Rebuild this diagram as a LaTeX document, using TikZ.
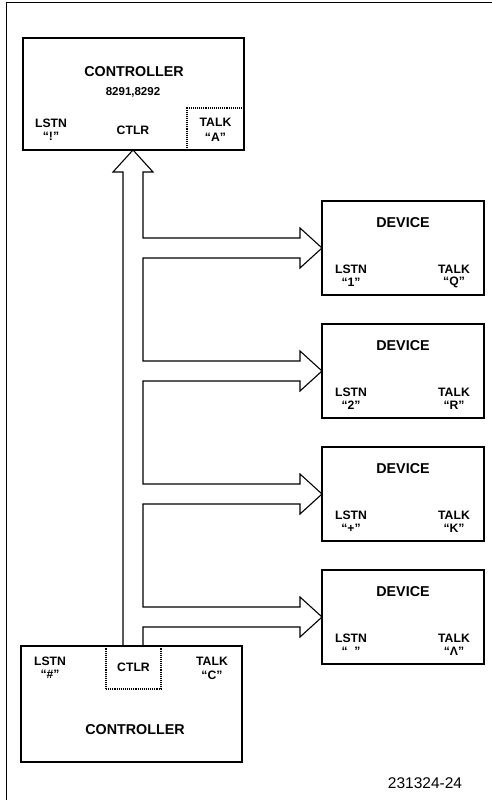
\documentclass[tikz,border=0pt]{standalone}
\usepackage{fontspec}
\setmainfont{Liberation Sans}
\begin{document}
\begin{tikzpicture}[x=1pt,y=-1pt,
  box/.style={draw, line width=1.5pt, inner sep=0pt, outer sep=0pt, anchor=north west},
  dbox/.style={draw, line width=1.1pt, densely dotted, inner sep=0pt, outer sep=0pt, anchor=north west},
  big/.style={inner sep=0pt, font=\fontsize{14.3}{14}\selectfont\bfseries},
  sm/.style={inner sep=0pt, font=\fontsize{12.2}{12}\selectfont\bfseries},
  num/.style={inner sep=0pt, font=\fontsize{11.5}{12}\selectfont\bfseries},
  bus/.style={draw, line width=1.1pt, line join=miter},
  frame/.style={draw, line width=1pt}]
\useasboundingbox (0,0) rectangle (492,800);
% outer frame
\draw[frame] (6,800) -- (6,3) -- (492,3);

% top controller
\node[box, minimum width=221pt, minimum height=112pt] (cA) at (23,38) {};
\node[dbox, minimum width=57pt, minimum height=42pt] (cAtalk) at (187,108) {};
\node[big] (cAname) at (134,72) {CONTROLLER};
\node[num] (cAnum) at (133,92) {8291,8292};
\node[sm] (cActlr) at (133,130) {CTLR};
\node[sm] (cAlstn) at (51,123) {LSTN};
\node[sm] (cAlv) at (51,136) {``!''};
\node[sm] (cAtk) at (215.5,122) {TALK};
\node[sm] (cAtv) at (215.5,137) {``A''};

% devices
\foreach \i/\T/\L/\K in {1/201/1/Q, 2/324/2/R, 3/447/+/K, 4/570/{\ \ }/Λ}{
  \node[box, minimum width=162pt, minimum height=94pt] (d\i) at (322,\T) {};
  \node[big] (d\i name) at (403,\T+22) {DEVICE};
  \node[sm] (d\i lstn) at (351,\T+68) {LSTN};
  \node[sm] (d\i lv) at (351,\T+81) {``\L''};
  \node[sm] (d\i tk) at (454,\T+68) {TALK};
  \node[sm] (d\i tv) at (454,\T+81) {``\K''};
}

% bottom controller
\node[box, minimum width=221pt, minimum height=116pt] (cB) at (21,646) {};
\node[dbox, minimum width=55pt, minimum height=43pt] (cBctl) at (106,646) {};
\node[sm] (cBlstn) at (50,661) {LSTN};
\node[sm] (cBlv) at (50,674) {``\#''};
\node[sm] (cBctlr) at (133.5,667) {CTLR};
\node[sm] (cBtk) at (212,661) {TALK};
\node[sm] (cBtv) at (212,675) {``C''};
\node[big] (cBname) at (135,730) {CONTROLLER};

% figure number
\node[inner sep=0pt, font=\fontsize{15.5}{15}\selectfont] (fig) at (425,783) {231324-24};

% bus
\coordinate (busL) at (123,0);
\coordinate (busR) at (143,0);
\coordinate (bx) at (133,0);
\coordinate (hb) at (0,172);
\coordinate (hx) at (300,0);
\draw[bus] (busL |- cBctl.north) -- (busL |- hb) -- ([xshift=-10pt]busL |- hb)
  -- (bx |- cA.south) -- ([xshift=10pt]busR |- hb) -- (busR |- hb)
  -- ([yshift=10pt]busR |- d1.west) -- ([yshift=10pt]hx |- d1.west) -- ([yshift=20pt]hx |- d1.west)
  -- (d1.west) -- ([yshift=-20pt]hx |- d1.west) -- ([yshift=-10pt]hx |- d1.west) -- ([yshift=-10pt]busR |- d1.west)
  -- ([yshift=10pt]busR |- d2.west) -- ([yshift=10pt]hx |- d2.west) -- ([yshift=20pt]hx |- d2.west)
  -- (d2.west) -- ([yshift=-20pt]hx |- d2.west) -- ([yshift=-10pt]hx |- d2.west) -- ([yshift=-10pt]busR |- d2.west)
  -- ([yshift=10pt]busR |- d3.west) -- ([yshift=10pt]hx |- d3.west) -- ([yshift=20pt]hx |- d3.west)
  -- (d3.west) -- ([yshift=-20pt]hx |- d3.west) -- ([yshift=-10pt]hx |- d3.west) -- ([yshift=-10pt]busR |- d3.west)
  -- ([yshift=10pt]busR |- d4.west) -- ([yshift=10pt]hx |- d4.west) -- ([yshift=20pt]hx |- d4.west)
  -- (d4.west) -- ([yshift=-20pt]hx |- d4.west) -- ([yshift=-10pt]hx |- d4.west) -- ([yshift=-10pt]busR |- d4.west)
  -- (busR |- cBctl.north);
\end{tikzpicture}
\end{document}
